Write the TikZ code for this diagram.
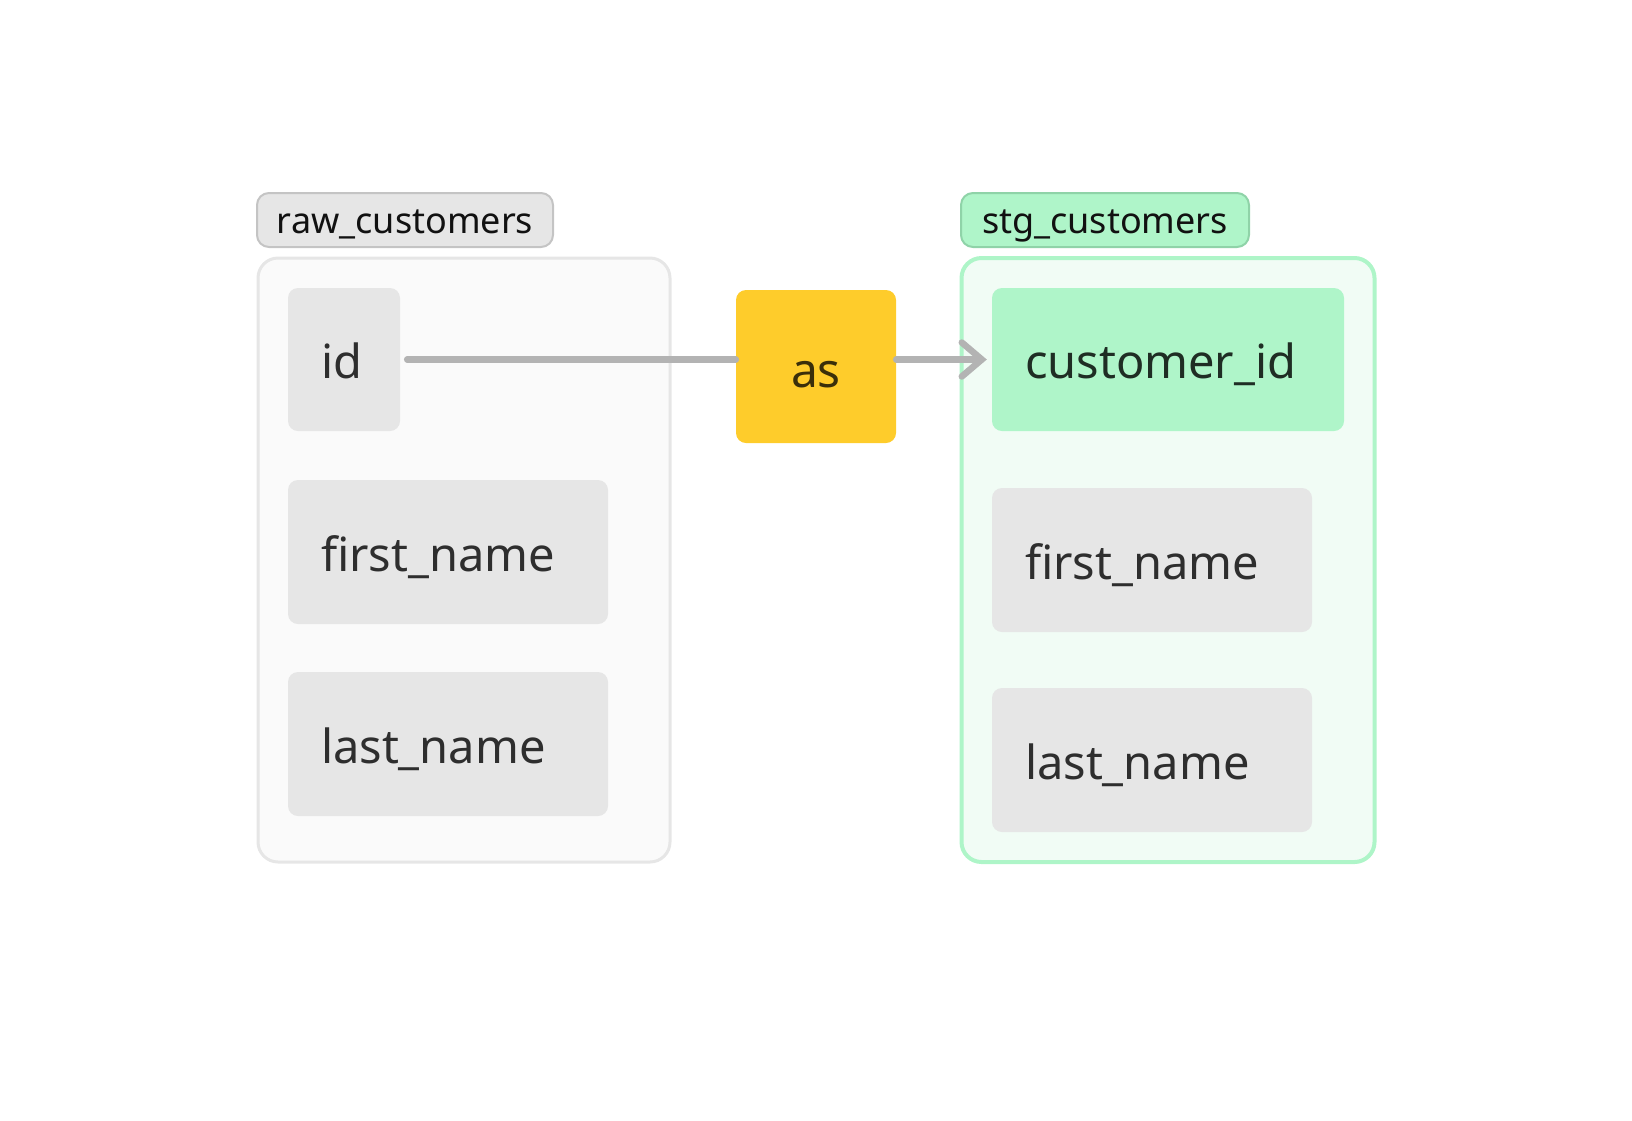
\documentclass[tikz,border=0pt]{standalone}
\usepackage{fontspec}
\setmainfont{Noto Sans}
\usepackage{tikz}
\usetikzlibrary{arrows.meta,shapes}
\definecolor{rawfill}{HTML}{FAFAFA}
\definecolor{rawline}{HTML}{E6E6E6}
\definecolor{rawtagfill}{HTML}{E6E6E6}
\definecolor{rawtagline}{HTML}{C4C4C4}
\definecolor{stgfill}{HTML}{F1FCF5}
\definecolor{stgline}{HTML}{AEF5C8}
\definecolor{stgtagfill}{HTML}{AFF5C9}
\definecolor{stgtagline}{HTML}{8FD3A8}
\definecolor{colfill}{HTML}{E6E6E6}
\definecolor{keyfill}{HTML}{AFF5C9}
\definecolor{coltext}{HTML}{2E2E2E}
\definecolor{keytext}{HTML}{1F2D24}
\definecolor{tagtext}{HTML}{111111}
\definecolor{asfill}{HTML}{FECC2B}
\definecolor{astext}{HTML}{3A2F0A}
\definecolor{linkgray}{HTML}{B3B3B3}
\tikzstyle{tablebox}=[rounded corners=20pt,line width=3pt]
\tikzstyle{tablelabel}=[draw,rounded corners=12pt,line width=2pt,minimum height=54pt,font=\fontsize{36}{40}\selectfont,text=tagtext,text height=26pt,text depth=0pt]
\tikzstyle{column}=[fill=colfill,rounded corners=10pt,minimum height=143pt,inner xsep=33pt,inner ysep=0pt,align=left,font=\fontsize{47}{52}\selectfont,text=coltext,text height=38pt,text depth=0pt]
\tikzstyle{link}=[line width=6.5pt,color=linkgray,line cap=round]

\begin{document}
\begin{tikzpicture}[x=1pt,y=-1pt]
		\useasboundingbox (0,0) rectangle (1632,1120);

		% tables
		\node[tablebox,fill=rawfill,draw=rawline,minimum width=412pt,minimum height=604pt] (raw) at (464,560) {};
		\node[tablebox,fill=stgfill,draw=stgline,line width=4pt,minimum width=413pt,minimum height=604pt] (stg) at (1168,560) {};

		% table names
		\node[tablelabel,fill=rawtagfill,draw=rawtagline,minimum width=296pt] (rawtag) at (405,220) {raw\_customers};
		\node[tablelabel,fill=stgtagfill,draw=stgtagline,minimum width=288pt] (stgtag) at (1105,220) {stg\_customers};

		% raw columns
		\node[column,text width=46pt] (rawid) at (344,359.5) {id};
		\node[column,text width=254pt,minimum height=144pt] (rawfirst) at (448,552) {first\_name};
		\node[column,text width=254pt,minimum height=144pt] (rawlast) at (448,744) {last\_name};

		% stg columns
		\node[column,fill=keyfill,text=keytext,text width=286pt] (custid) at (1168,359.5) {customer\_id};
		\node[column,text width=254pt,minimum height=144pt] (stgfirst) at (1152,560) {first\_name};
		\node[column,text width=254pt,minimum height=144pt] (stglast) at (1152,760) {last\_name};

		% rename
		\node[fill=asfill,rounded corners=10pt,minimum width=160pt,minimum height=153pt,
			font=\fontsize{48}{52}\selectfont,text=astext,text height=41pt,text depth=0pt] (as) at (816,366.5) {as};

		% lineage
		\draw[link,shorten <=7pt] (rawid.east) -- (rawid.east -| as.west);
		\draw[link,-{Straight Barb[length=20pt,width=34pt,line cap=round]},shorten >=5pt]
			(as.east |- rawid.east) -- (custid.west);
	\end{tikzpicture}
\end{document}
